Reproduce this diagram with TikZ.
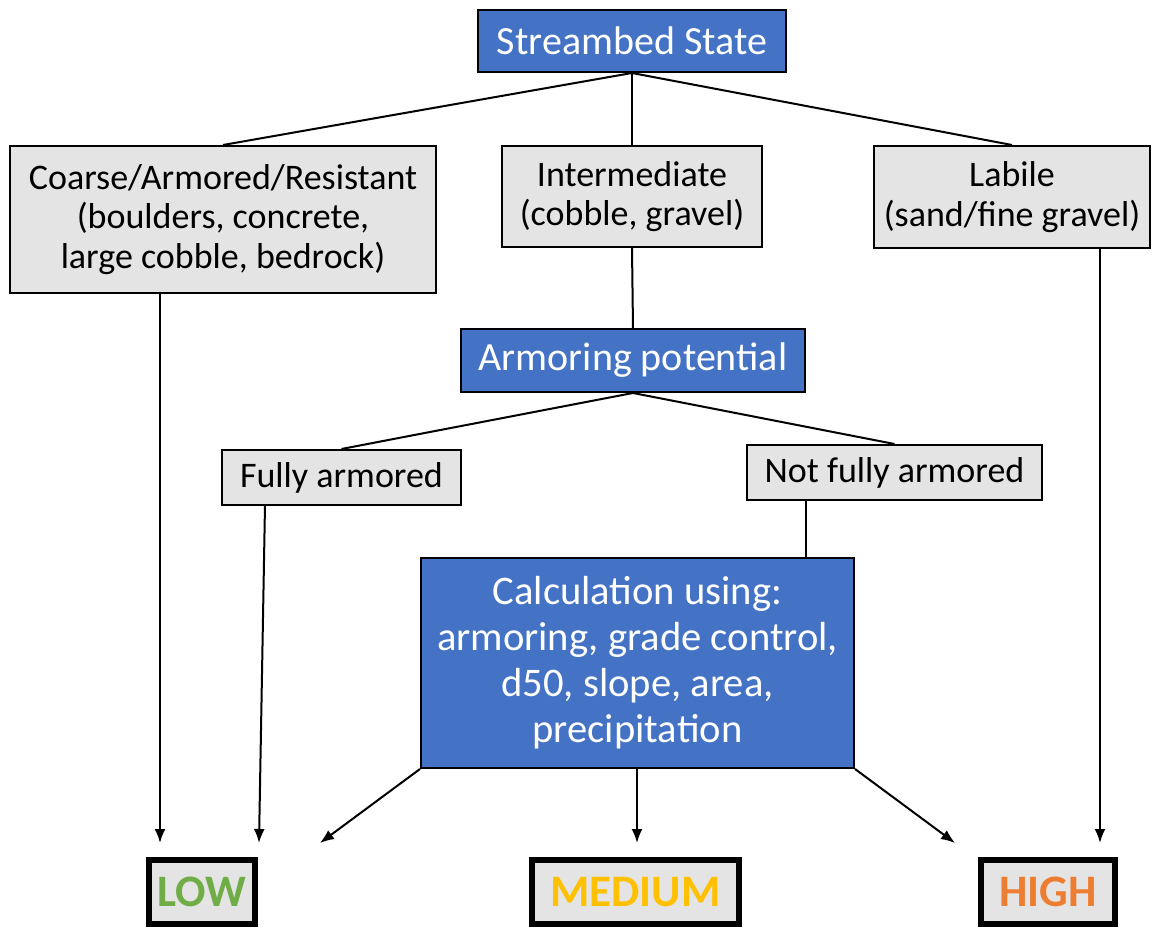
\documentclass[tikz,border=0pt]{standalone}
\usepackage{fontspec}
\setmainfont{Carlito}
\usetikzlibrary{arrows.meta,positioning,calc}

\definecolor{sbblue}{RGB}{68,114,196}
\definecolor{sbgray}{RGB}{228,228,228}
\definecolor{sbgreen}{RGB}{112,173,71}
\definecolor{sbyellow}{RGB}{255,192,0}
\definecolor{sborange}{RGB}{237,125,49}

\begin{document}
\begin{tikzpicture}[x=0.5pt,y=-0.5pt,
    bluebox/.style={rectangle, draw=black, line width=1pt, fill=sbblue, text=white, font=\fontsize{20}{24}\selectfont, align=center, inner sep=0pt},
    graybox/.style={rectangle, draw=black, line width=1pt, fill=sbgray, text=black, font=\fontsize{18}{19.8}\selectfont, align=center, inner sep=0pt},
    ratebox/.style={rectangle, draw=black, line width=3pt, fill=sbgray, font=\fontsize{22.5}{26}\selectfont\bfseries, inner sep=0pt},
    link/.style={line width=1pt},
    arr/.style={line width=1pt, -{Latex[length=7pt,width=5.5pt]}}]

        \useasboundingbox (0,0) rectangle (1158,930);

        % Top - streambed state
        \node[bluebox, minimum width=154pt, minimum height=31pt] (stream) at (632,41) {Streambed State};

        % Second row - bed material classes
        \node[graybox, minimum width=213pt, minimum height=73.5pt] (coarse) at (223,219.5) {Coarse/Armored/Resistant\\(boulders, concrete,\\large cobble, bedrock)};
        \node[graybox, minimum width=130pt, minimum height=50.5pt] (inter) at (632,196.5) {Intermediate\\(cobble, gravel)};
        \node[graybox, minimum width=138pt, minimum height=51pt] (labile) at (1012,197) {Labile\\(sand/fine gravel)};

        % Middle - armoring potential
        \node[bluebox, minimum width=172pt, minimum height=31.5pt] (armor) at (633,360.5) {Armoring potential};
        \node[graybox, minimum width=119.5pt, minimum height=27.5pt] (fully) at (341.5,477.5) {Fully armored};
        \node[graybox, minimum width=147.5pt, minimum height=27.5pt] (notfully) at (894.5,472.5) {Not fully armored};

        % Calculation box
        \node[bluebox, minimum width=216.5pt, minimum height=105pt, font=\fontsize{20.3}{23}\selectfont] (calc) at (637.5,663) {Calculation using:\\armoring, grade control,\\d50, slope, area,\\precipitation};

        % Bottom - ratings
        \node[ratebox, text=sbgreen, minimum width=53pt, minimum height=32pt] (low) at (202,892) {LOW};
        \node[ratebox, text=sbyellow, minimum width=103.5pt, minimum height=32pt] (medium) at (635.5,892) {MEDIUM};
        \node[ratebox, text=sborange, minimum width=67pt, minimum height=32pt] (high) at (1048,892) {HIGH};

        % Arrow ends above the rating boxes
        \coordinate (lowa) at (160,843);
        \coordinate (lowb) at (259,843);
        \coordinate (lowc) at (320,843);
        \coordinate (meda) at (637,843);
        \coordinate (higha) at (955,843);
        \coordinate (highb) at (1100,843);
        \coordinate (fullyout) at (265,505);

        % Connecting lines
        \draw[link] (stream.south) -- (coarse.north);
        \draw[link] (stream.south) -- (inter.north);
        \draw[link] (stream.south) -- (labile.north);
        \draw[link] (inter.south) -- (armor.north);
        \draw[link] (armor.south) -- (fully.north);
        \draw[link] (armor.south) -- (notfully.north);
        \draw[link] (notfully.south -| 806,0) -- (calc.north -| 806,0);

        % Arrows to ratings
        \draw[arr] (coarse.south -| lowa) -- (lowa);
        \draw[arr] (fullyout) -- (lowb);
        \draw[arr] (calc.south west) -- (lowc);
        \draw[arr] (calc.south -| meda) -- (meda);
        \draw[arr] (calc.south east) -- (higha);
        \draw[arr] (labile.south -| highb) -- (highb);
    \end{tikzpicture}
\end{document}
